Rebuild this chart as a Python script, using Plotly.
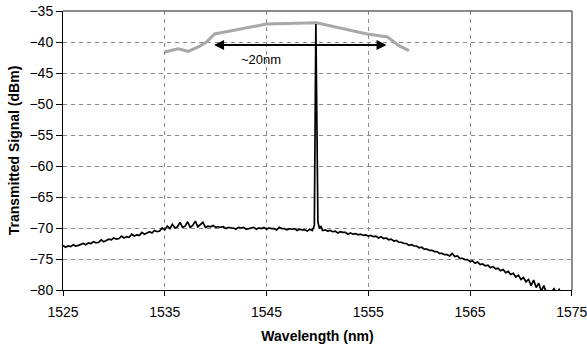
import plotly.graph_objects as go

# Measured broadband trace (nm, dBm)
wavelength = [
    1525.00, 1525.25, 1525.50, 1525.75, 1526.00, 1526.25, 1526.50, 1526.75, 1527.00, 1527.25,
    1527.50, 1527.75, 1528.00, 1528.25, 1528.50, 1528.75, 1529.00, 1529.25, 1529.50, 1529.75,
    1530.00, 1530.25, 1530.50, 1530.75, 1531.00, 1531.25, 1531.50, 1531.75, 1532.00, 1532.25,
    1532.50, 1532.75, 1533.00, 1533.25, 1533.50, 1533.75, 1534.00, 1534.25, 1534.50, 1534.75,
    1535.00, 1535.25, 1535.50, 1535.75, 1536.00, 1536.25, 1536.50, 1536.75, 1537.00, 1537.25,
    1537.50, 1537.75, 1538.00, 1538.25, 1538.50, 1538.75, 1539.00, 1539.25, 1539.50, 1539.75,
    1540.00, 1540.25, 1540.50, 1540.75, 1541.00, 1541.25, 1541.50, 1541.75, 1542.00, 1542.25,
    1542.50, 1542.75, 1543.00, 1543.25, 1543.50, 1543.75, 1544.00, 1544.25, 1544.50, 1544.75,
    1545.00, 1545.25, 1545.50, 1545.75, 1546.00, 1546.25, 1546.50, 1546.75, 1547.00, 1547.25,
    1547.50, 1547.75, 1548.00, 1548.25, 1548.50, 1548.75, 1549.00, 1549.25, 1549.50,
    1549.70, 1549.85, 1550.05, 1550.20, 1550.35,
    1550.50, 1550.75, 1551.00, 1551.25, 1551.50, 1551.75, 1552.00, 1552.25, 1552.50, 1552.75,
    1553.00, 1553.25, 1553.50, 1553.75, 1554.00, 1554.25, 1554.50, 1554.75, 1555.00, 1555.25,
    1555.50, 1555.75, 1556.00, 1556.25, 1556.50, 1556.75, 1557.00, 1557.25, 1557.50, 1557.75,
    1558.00, 1558.25, 1558.50, 1558.75, 1559.00, 1559.25, 1559.50, 1559.75, 1560.00, 1560.25,
    1560.50, 1560.75, 1561.00, 1561.25, 1561.50, 1561.75, 1562.00, 1562.25, 1562.50, 1562.75,
    1563.00, 1563.25, 1563.50, 1563.75, 1564.00, 1564.25, 1564.50, 1564.75, 1565.00, 1565.25,
    1565.50, 1565.75, 1566.00, 1566.25, 1566.50, 1566.75, 1567.00, 1567.25, 1567.50, 1567.75,
    1568.00, 1568.25, 1568.50, 1568.75, 1569.00, 1569.25, 1569.50, 1569.75, 1570.00, 1570.25,
    1570.50, 1570.75, 1571.00, 1571.25, 1571.50, 1571.75, 1572.00, 1572.25, 1572.50, 1572.75,
    1573.00, 1573.25, 1573.50, 1573.75, 1574.00,
]
signal = [
    -72.8, -73.1, -72.9, -73.0, -72.7, -72.9, -72.8, -72.6, -72.5, -72.7,
    -72.4, -72.5, -72.2, -72.4, -72.3, -71.9, -72.2, -72.0, -71.8, -71.9,
    -71.6, -71.8, -71.7, -71.3, -71.6, -71.4, -71.5, -71.0, -71.3, -71.1,
    -71.2, -70.7, -71.0, -70.8, -70.6, -70.8, -70.4, -70.6, -70.5, -70.0,
    -70.3, -69.7, -70.1, -69.4, -70.0, -69.8, -69.1, -69.9, -69.7, -69.0,
    -69.9, -69.6, -68.9, -69.8, -69.5, -69.1, -69.9, -69.7, -69.8, -69.6,
    -69.9, -69.8, -69.9, -69.8, -70.1, -69.9, -70.0, -70.0, -70.2, -69.9,
    -70.0, -69.9, -70.2, -70.1, -70.0, -69.9, -70.2, -70.0, -70.1, -69.9,
    -70.2, -70.0, -70.1, -70.1, -70.3, -69.9, -70.1, -70.1, -70.3, -70.1,
    -70.2, -70.1, -70.4, -70.2, -70.3, -70.3, -70.5, -70.2, -70.4,
    -69.6, -37.1, -69.0, -70.1, -69.7,
    -70.4, -70.3, -70.5, -70.4, -70.6, -70.5, -70.8, -70.6, -70.7, -70.7,
    -71.0, -70.8, -71.0, -70.9, -71.1, -71.0, -71.2, -71.1, -71.3, -71.2,
    -71.4, -71.3, -71.6, -71.4, -71.7, -71.6, -71.9, -71.8, -72.1, -72.0,
    -72.3, -72.3, -72.5, -72.5, -72.8, -72.7, -72.9, -72.9, -73.2, -73.1,
    -73.4, -73.4, -73.6, -73.6, -73.8, -73.8, -74.1, -74.1, -74.3, -74.3,
    -74.5, -74.1, -74.6, -74.5, -74.9, -74.9, -75.1, -75.1, -75.4, -75.3,
    -75.7, -75.5, -75.9, -75.8, -76.1, -76.0, -76.4, -76.2, -76.6, -76.5,
    -76.9, -76.7, -77.2, -77.0, -77.5, -77.3, -77.9, -77.6, -78.3, -78.0,
    -78.7, -78.3, -79.3, -78.4, -79.6, -78.9, -80.2, -79.3, -80.4, -80.6,
    -80.3, -79.8, -80.5, -79.9, -80.6,
]

# Grey envelope (gain profile sketch)
env_wavelength = [1535.0, 1536.3, 1537.3, 1538.4, 1539.1, 1539.9, 1545.0, 1549.9,
                  1554.9, 1556.9, 1558.0, 1559.0]
env_signal = [-41.6, -41.1, -41.5, -40.7, -40.0, -38.7, -37.1, -36.9,
              -38.7, -39.2, -40.6, -41.4]

arrow_start, arrow_end, arrow_level = 1539.7, 1556.8, -40.5
arrow_label = "~20nm"

x_ticks = [1525, 1535, 1545, 1555, 1565, 1575]
y_ticks = [-35, -40, -45, -50, -55, -60, -65, -70, -75, -80]

fig = go.Figure()
fig.add_trace(go.Scatter(x=env_wavelength, y=env_signal, mode="lines",
                         line=dict(color="#a8a8a8", width=3), showlegend=False,
                         hoverinfo="skip"))
fig.add_trace(go.Scatter(x=wavelength, y=signal, mode="lines",
                         line=dict(color="black", width=1.7), showlegend=False,
                         hoverinfo="skip"))

fig.add_annotation(x=arrow_end, y=arrow_level, ax=arrow_start, ay=arrow_level,
                   xref="x", yref="y", axref="x", ayref="y", text="",
                   showarrow=True, arrowhead=2, arrowside="end+start",
                   arrowsize=1, arrowwidth=2, arrowcolor="black")
fig.add_annotation(x=1544.5, y=-42.8, text=arrow_label, showarrow=False,
                   font=dict(size=13, color="black", family="Liberation Sans, Arial"))

# top and right frame
fig.add_shape(type="line", xref="paper", yref="paper", x0=0, x1=1, y0=1, y1=1,
              line=dict(color="#666666", width=1.5))
fig.add_shape(type="line", xref="paper", yref="paper", x0=1, x1=1, y0=0, y1=1,
              line=dict(color="#666666", width=1.5))

font = dict(family="Liberation Sans, Arial", size=14, color="black")
fig.update_layout(
    width=587, height=345,
    margin=dict(l=63, r=15, t=11, b=55, autoexpand=False),
    paper_bgcolor="white", plot_bgcolor="white",
    font=font,
    xaxis=dict(range=[1525, 1575.02], tickvals=x_ticks, ticks="outside", ticklen=5,
               tickcolor="black", showline=True, linecolor="black", linewidth=1,
               showgrid=True, gridcolor="#8a8a8a", griddash="4px,4px", gridwidth=1,
               zeroline=False, automargin=False, ticklabeloverflow="allow",
               ticklabelstandoff=4,
               title=dict(text="<b>Wavelength (nm)</b>", font=dict(size=14), standoff=12)),
    yaxis=dict(range=[-80, -35], tickvals=y_ticks, ticks="outside", ticklen=6,
               tickcolor="black", showline=True, linecolor="black", linewidth=1,
               showgrid=True, gridcolor="#8a8a8a", griddash="4px,4px", gridwidth=1,
               zeroline=False, automargin=False, ticklabeloverflow="allow",
               title=dict(text="<b>Transmitted Signal (dBm)</b>", font=dict(size=14), standoff=6)),
)

fig.write_html("out.html", config={"displayModeBar": False},
               post_script="document.body.style.margin='0';document.body.style.overflow='hidden';")
